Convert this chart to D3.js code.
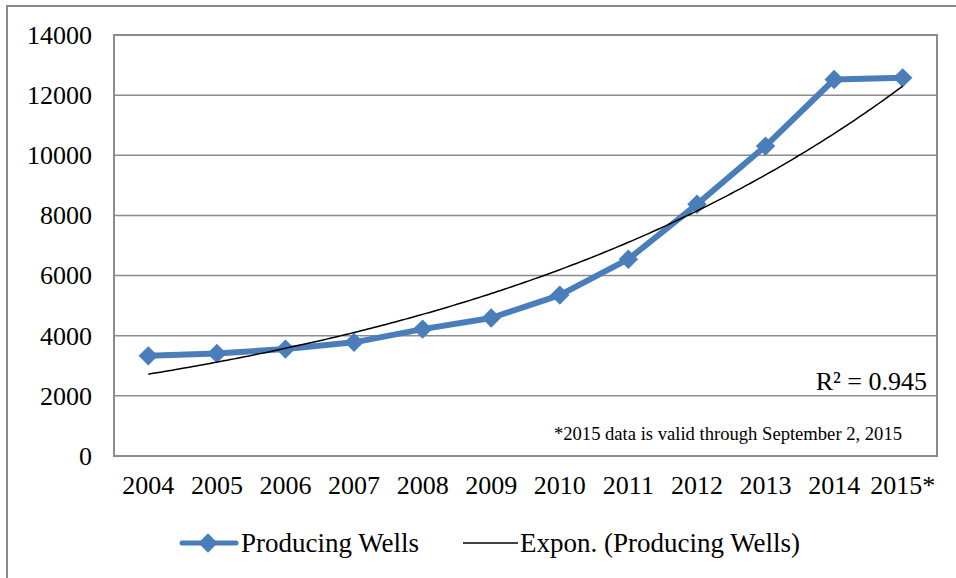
<!DOCTYPE html>
<html>
<head>
<meta charset="utf-8">
<script src="https://cdn.jsdelivr.net/npm/d3@7"></script>
<style>
  html, body { margin: 0; padding: 0; background: #fff; }
  svg { display: block; }
</style>
</head>
<body>
<svg id="chart" width="956" height="578" font-family="'Liberation Serif', 'Times New Roman', serif"></svg>
<script>
// Producing wells per year
const years = ["2004", "2005", "2006", "2007", "2008", "2009", "2010", "2011", "2012", "2013", "2014", "2015*"];
const wells = [3330, 3410, 3555, 3780, 4220, 4590, 5350, 6545, 8370, 10305, 12520, 12575];
const yTicks = [0, 2000, 4000, 6000, 8000, 10000, 12000, 14000];
const rSquaredLabel = "R² = 0.945";
const footnote = "*2015 data is valid through September 2, 2015";
const legendLabels = ["Producing Wells", "Expon. (Producing Wells)"];

const serif = "'Liberation Serif', 'Times New Roman', serif";
const blue = "#4A7EBB";
const gridGray = "#8c8c8c";

const svg = d3.select("#chart");
const plot = { left: 114, right: 937, top: 35, bottom: 456 };

const x = d3.scaleBand().domain(years).range([plot.left, plot.right]);
const y = d3.scaleLinear().domain([0, 14000]).range([plot.bottom, plot.top]);
const cx = d => x(d) + x.bandwidth() / 2;

// Outer chart frame (left and top edges visible)
svg.append("path")
  .attr("d", `M7,578 V6 H956`)
  .attr("fill", "none").attr("stroke", "#8a8a8a").attr("stroke-width", 2);

// Horizontal gridlines
svg.append("g").selectAll("line").data(yTicks.filter(t => t > 0)).join("line")
  .attr("x1", plot.left).attr("x2", plot.right)
  .attr("y1", d => y(d)).attr("y2", d => y(d))
  .attr("stroke", gridGray).attr("stroke-width", 1.5);

// Plot area border
svg.append("rect")
  .attr("x", plot.left).attr("y", plot.top)
  .attr("width", plot.right - plot.left).attr("height", plot.bottom - plot.top)
  .attr("fill", "none").attr("stroke", gridGray).attr("stroke-width", 2);

// Y axis labels
const yAxis = d3.axisLeft(y).tickValues(yTicks).tickSize(0).tickPadding(22).tickFormat(d3.format("d"));
const gy = svg.append("g").attr("transform", `translate(${plot.left},0)`).call(yAxis)
  .attr("font-family", serif).attr("font-size", 26);
gy.select(".domain").remove();
gy.selectAll("text").attr("fill", "#000");

// X axis labels
const xAxis = d3.axisBottom(x).tickSize(0).tickPadding(20);
const gx = svg.append("g").attr("transform", `translate(0,${plot.bottom})`).call(xAxis)
  .attr("font-family", serif).attr("font-size", 26);
gx.select(".domain").remove();
gx.selectAll("text").attr("fill", "#000");

// Exponential trendline: least-squares fit of ln(value) against period index
const idx = wells.map((_, i) => i + 1);
const lnv = wells.map(v => Math.log(v));
const mx = d3.mean(idx), my = d3.mean(lnv);
const b = d3.sum(idx, (xi, i) => (xi - mx) * (lnv[i] - my)) / d3.sum(idx, xi => (xi - mx) ** 2);
const a = Math.exp(my - b * mx);
const trendScale = d3.scaleLinear().domain([1, years.length]).range([cx(years[0]), cx(years[years.length - 1])]);
const trendPts = d3.range(1, years.length + 0.001, 0.05).map(t => [trendScale(t), y(a * Math.exp(b * t))]);

// Producing wells series
svg.append("path")
  .datum(wells)
  .attr("d", d3.line().x((d, i) => cx(years[i])).y(d => y(d)))
  .attr("fill", "none").attr("stroke", blue).attr("stroke-width", 6)
  .attr("stroke-linejoin", "round").attr("stroke-linecap", "round");

const diamond = d3.symbol().type(d3.symbolDiamond2).size(240);
svg.append("g").selectAll("path").data(wells).join("path")
  .attr("transform", (d, i) => `translate(${cx(years[i])},${y(d)})`)
  .attr("d", diamond)
  .attr("fill", blue);

// Trendline drawn over the series
svg.append("path")
  .attr("d", d3.line()(trendPts))
  .attr("fill", "none").attr("stroke", "#000").attr("stroke-width", 1.5);

// R² label and footnote
svg.append("text").attr("x", 927).attr("y", 390).attr("text-anchor", "end")
  .attr("font-family", serif).attr("font-size", 26).attr("fill", "#000").text(rSquaredLabel);
svg.append("text").attr("x", 902).attr("y", 440).attr("text-anchor", "end")
  .attr("font-family", serif).attr("font-size", 18.6).attr("fill", "#000").text(footnote);

// Legend
const lg = svg.append("g").attr("font-family", serif).attr("font-size", 27).attr("fill", "#000");
lg.append("line").attr("x1", 182).attr("x2", 236).attr("y1", 543).attr("y2", 543)
  .attr("stroke", blue).attr("stroke-width", 5).attr("stroke-linecap", "round");
lg.append("path").attr("transform", "translate(208,543)").attr("d", diamond).attr("fill", blue);
lg.append("text").attr("x", 241).attr("y", 552).text(legendLabels[0]);
lg.append("line").attr("x1", 463).attr("x2", 518).attr("y1", 543).attr("y2", 543)
  .attr("stroke", "#000").attr("stroke-width", 1.5);
lg.append("text").attr("x", 520).attr("y", 552).text(legendLabels[1]);
</script>
</body>
</html>
